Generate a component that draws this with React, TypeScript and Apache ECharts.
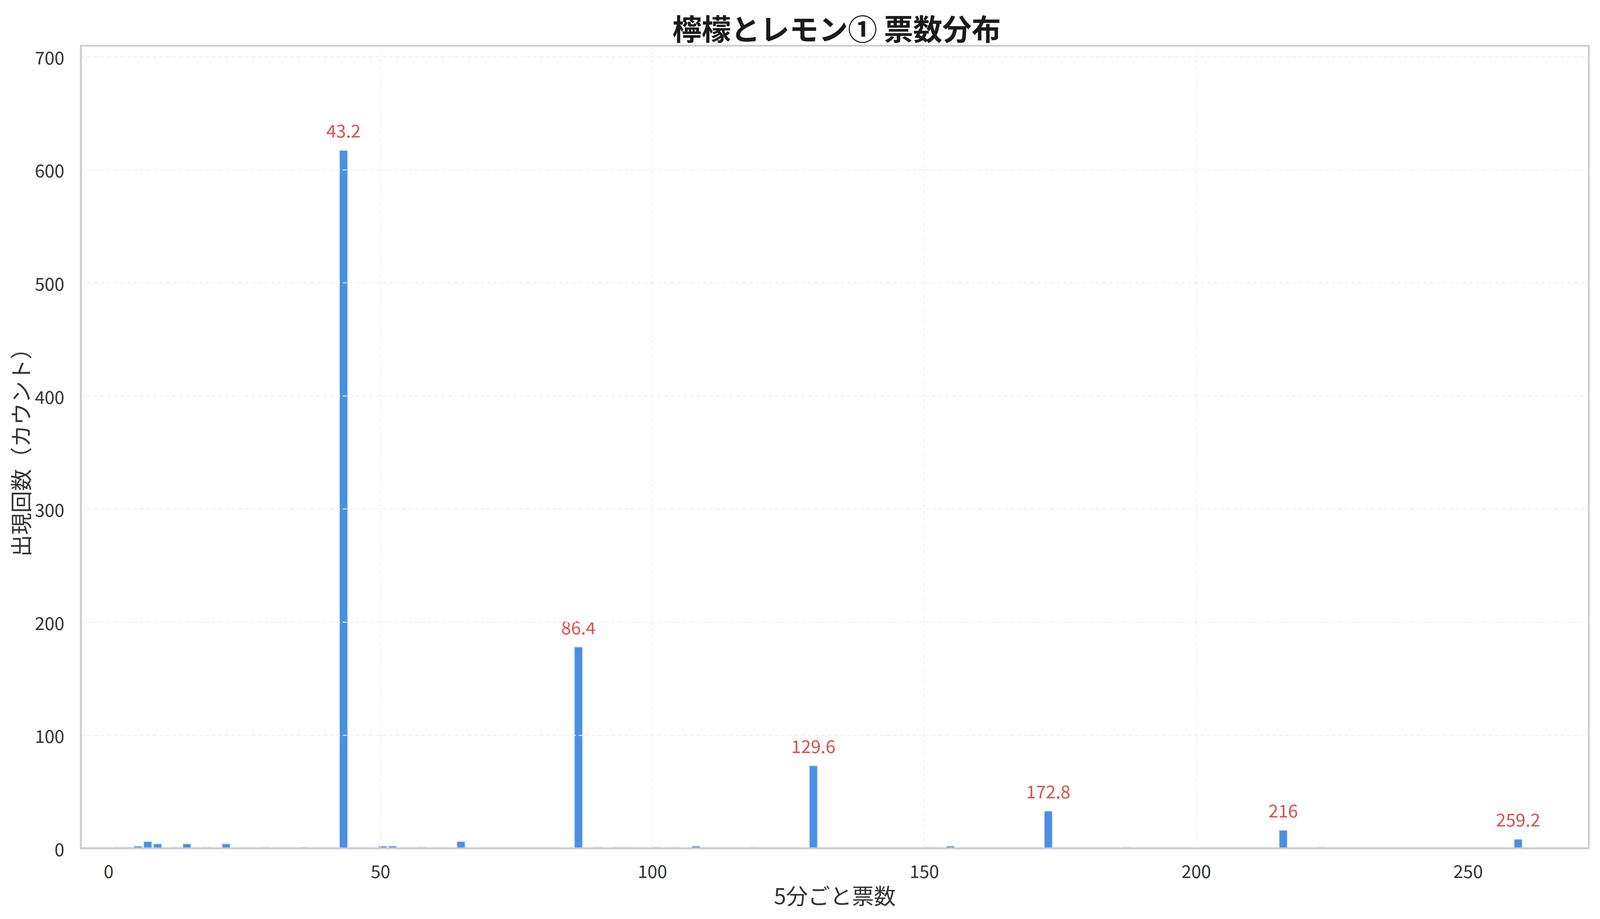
import { useEffect, useRef } from 'react';
import * as echarts from 'echarts';

// bin centres (votes per 5 minutes) and how often each occurred
const VOTE_VALUES = [
  1.8, 3.6, 5.4, 7.2, 9.0, 12.6, 14.4, 18.0, 21.6, 28.8, 36.0, 43.2, 50.4, 52.2, 57.6, 64.8,
  86.4, 90.0, 93.6, 95.4, 100.8, 104.4, 108.0, 118.8, 129.6, 151.2, 154.8, 172.8, 187.2, 216,
  223.2, 259.2,
];
const VOTE_COUNTS = [
  1, 1, 2, 6, 4, 1, 4, 1, 4, 1, 1, 617, 2, 2, 1, 6,
  178, 1, 1, 1, 1, 1, 2, 1, 73, 1, 2, 33, 1, 16,
  1, 8,
];
const PEAK_VALUES = [43.2, 86.4, 129.6, 172.8, 216, 259.2];
const X_TICKS = [0, 50, 100, 150, 200, 250];

const BAR_WIDTH = 1.5;
const FONT = '"Noto Sans CJK JP", "Noto Sans", sans-serif';
const REF_W = 4154;
const REF_H = 2353;

export default function App() {
  const chartRef = useRef<HTMLDivElement | null>(null);

  useEffect(() => {
    if (!chartRef.current) {
      return;
    }
    const el = chartRef.current;
    // layout was measured on a 4154x2353 picture; scale to the real viewport
    const sx = el.clientWidth / REF_W;
    const sy = el.clientHeight / REF_H;
    const px = (v: number) => v * sx;
    const py = (v: number) => v * sy;
    const chart = echarts.init(el, null, { renderer: 'svg' });
    const barData = VOTE_VALUES.map((v, i) => [v, VOTE_COUNTS[i]]);
    const peakData = PEAK_VALUES.map((v) => [v, VOTE_COUNTS[VOTE_VALUES.indexOf(v)]]);
    const gridLine = { show: true, lineStyle: { color: '#eeeeee', width: px(2.5), type: [px(10), px(7)] } };

    chart.setOption({
      animation: false,
      backgroundColor: '#ffffff',
      textStyle: { fontFamily: FONT },
      title: {
        text: '檸檬とレモン① 票数分布',
        left: px(2167),
        top: py(28),
        textAlign: 'center',
        textStyle: { fontFamily: FONT, fontSize: px(76), fontWeight: 600, color: '#1a1a1a' },
      },
      grid: {
        left: px(210),
        right: px(29),
        top: py(117),
        bottom: py(181),
        show: true,
        borderColor: '#cccccc',
        borderWidth: px(4.5),
        backgroundColor: 'transparent',
      },
      xAxis: {
        type: 'value',
        min: -5.1,
        max: 272.2,
        name: '5分ごと票数',
        nameLocation: 'middle',
        nameGap: py(90),
        nameTextStyle: { fontFamily: FONT, fontSize: px(57), color: '#333333' },
        z: 10,
        axisLine: { show: true, onZero: false, lineStyle: { color: '#cccccc', width: px(4.5) } },
        axisTick: { show: false, customValues: X_TICKS },
        axisLabel: { customValues: X_TICKS, margin: py(33), fontFamily: FONT, fontSize: px(46), color: '#333333' },
        splitLine: { ...gridLine, showMinLine: false, showMaxLine: false },
      },
      yAxis: {
        type: 'value',
        min: 0,
        max: 709.55,
        interval: 100,
        name: '出現回数（カウント）',
        nameLocation: 'middle',
        nameGap: px(128),
        nameTextStyle: { fontFamily: FONT, fontSize: px(57), color: '#333333' },
        z: 10,
        axisLine: { show: true, onZero: false, lineStyle: { color: '#cccccc', width: px(4.5) } },
        axisTick: { show: false },
        axisLabel: { showMaxLabel: false, margin: px(43), fontFamily: FONT, fontSize: px(46), color: '#333333' },
        splitLine: { ...gridLine, showMinLine: false, showMaxLine: false },
      },
      series: [
        {
          type: 'custom',
          name: '出現回数',
          data: barData,
          encode: { x: 0, y: 1 },
          z: 2,
          renderItem: (_params: any, api: any) => {
            const x = api.value(0);
            const c = api.value(1);
            const p0 = api.coord([x - BAR_WIDTH / 2, 0]);
            const p1 = api.coord([x + BAR_WIDTH / 2, c]);
            return {
              type: 'rect',
              shape: { x: p0[0], y: p1[1], width: p1[0] - p0[0], height: p0[1] - p1[1] },
              style: { fill: '#4a90e2', stroke: '#d3e4f8', lineWidth: px(2) },
            };
          },
        },
        {
          type: 'scatter',
          name: 'ピーク',
          data: peakData,
          symbolSize: 0,
          z: 5,
          label: {
            show: true,
            position: 'top',
            distance: py(30),
            formatter: (p: any) => String(p.value[0]),
            fontFamily: FONT,
            fontSize: px(46),
            color: '#cc2419',
          },
        },
      ],
    });

    return () => {
      chart.dispose();
    };
  }, []);

  return <div ref={chartRef} style={{ position: 'fixed', left: 0, top: 0, width: '100vw', height: '100vh' }} />;
}
